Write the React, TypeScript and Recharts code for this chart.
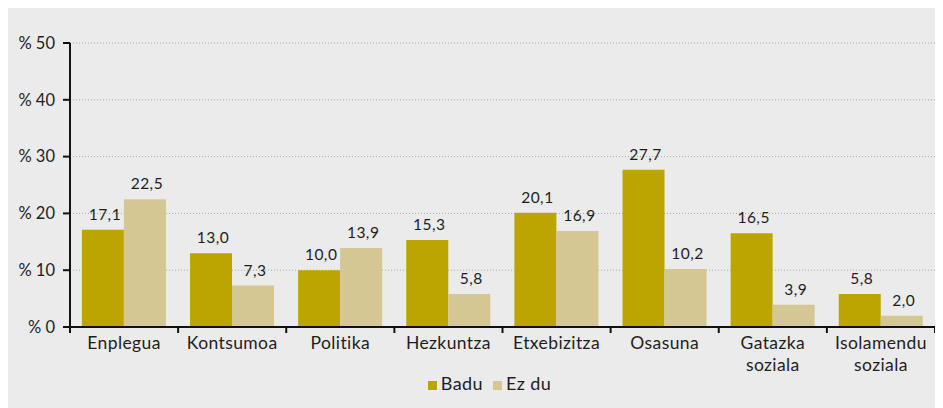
import React from 'react';
import { BarChart, Bar, XAxis, YAxis, CartesianGrid, Legend, LabelList } from 'recharts';

const categories = ['Enplegua', 'Kontsumoa', 'Politika', 'Hezkuntza', 'Etxebizitza', 'Osasuna', 'Gatazka soziala', 'Isolamendu soziala'];
const baduValues = [17.1, 13.0, 10.0, 15.3, 20.1, 27.7, 16.5, 5.8];
const ezDuValues = [22.5, 7.3, 13.9, 5.8, 16.9, 10.2, 3.9, 2.0];
const yTicks = [0, 10, 20, 30, 40, 50];

const data = categories.map((c, i) => ({ name: c, badu: baduValues[i], ezdu: ezDuValues[i] }));

const FONT = 'Lato, "Noto Sans", sans-serif';
const TEXT = '#1e1e1e';
const TICK_SIZE = 6;
const TICK_MARGIN = 4;

const fmt = (v: any) => Number(v).toFixed(1).replace('.', ',');

const CatTick = (props: any) => {
  const { x, y, payload, index, visibleTicksCount } = props;
  const half = payload && payload.offset != null ? payload.offset : 0;
  const axisY = y - TICK_SIZE - TICK_MARGIN;
  const words = String(payload.value).split(' ');
  const isLast = index === visibleTicksCount - 1;
  return (
    <g>
      <line x1={x - half} x2={x - half} y1={axisY} y2={axisY + TICK_SIZE} stroke="#111" strokeWidth={2} />
      {isLast && (
        <line x1={x + half} x2={x + half} y1={axisY} y2={axisY + TICK_SIZE} stroke="#111" strokeWidth={2} />
      )}
      <text x={x} y={y} textAnchor="middle" fill={TEXT} fontSize={17.5} fontFamily={FONT} letterSpacing={0.4}>
        {words.map((w, i) => (
          <tspan key={i} x={x} dy={i === 0 ? '0.71em' : 22}>
            {w}
          </tspan>
        ))}
      </text>
    </g>
  );
};

export default function App() {
  return (
    <div style={{ position: 'relative', marginLeft: -2, width: 937, height: 400, background: '#ebebeb' }}>
      <BarChart
        width={937}
        height={400}
        data={data}
        margin={{ top: 35, right: 8, left: 0, bottom: 6 }}
        barCategoryGap="11%"
        barGap={0}
      >
        <CartesianGrid vertical={false} stroke="#a8a8a8" strokeDasharray="1 2" />
        <XAxis
          dataKey="name"
          interval={0}
          height={45}
          tickLine={false}
          tickSize={TICK_SIZE}
          tickMargin={TICK_MARGIN}
          axisLine={{ stroke: '#111', strokeWidth: 2 }}
          tick={<CatTick />}
        />
        <YAxis
          width={64}
          domain={[0, 50]}
          ticks={yTicks}
          interval={0}
          tickFormatter={(v: any) => `% ${v}`}
          tickSize={7}
          tickMargin={8}
          axisLine={{ stroke: '#111', strokeWidth: 2 }}
          tickLine={{ stroke: '#111', strokeWidth: 2 }}
          tick={{ fill: TEXT, fontSize: 16.5, fontFamily: FONT }}
        />
        <Legend
          verticalAlign="bottom"
          height={30}
          iconType="square"
          iconSize={9}
          wrapperStyle={{ left: 24, fontFamily: FONT, fontSize: 18 }}
          formatter={(value: any) => <span style={{ color: TEXT, letterSpacing: 0.4 }}>{value}</span>}
        />
        <Bar dataKey="badu" name="Badu" fill="#bda500" isAnimationActive={false}>
          <LabelList dataKey="badu" position="top" offset={10} formatter={fmt} fill={TEXT} fontSize={15.5} fontFamily={FONT} letterSpacing={0.5} dx={2} />
        </Bar>
        <Bar dataKey="ezdu" name="Ez du" fill="#d4c794" isAnimationActive={false}>
          <LabelList dataKey="ezdu" position="top" offset={10} formatter={fmt} fill={TEXT} fontSize={15.5} fontFamily={FONT} letterSpacing={0.5} dx={2} />
        </Bar>
      </BarChart>
    </div>
  );
}
